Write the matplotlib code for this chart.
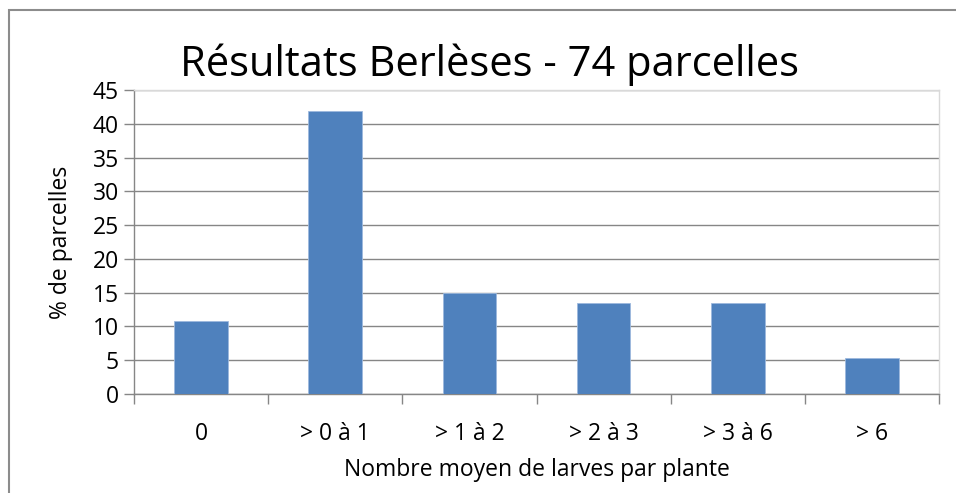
import matplotlib.pyplot as plt
import matplotlib.patches as mpatches
import numpy as np

# données (74 parcelles)
categories = ['0', '> 0 à 1', '> 1 à 2', '> 2 à 3', '> 3 à 6', '> 6']
pourcentages = [10.8, 41.9, 14.9, 13.5, 13.5, 5.4]
yticks = [0, 5, 10, 15, 20, 25, 30, 35, 40, 45]

plt.rcParams['font.family'] = ['Open Sans', 'DejaVu Sans']

W, H = 956, 493
fig = plt.figure(figsize=(W / 100, H / 100), dpi=100)

# position de la zone de tracé en pixels
left, right, top, bottom = 134, 939, 90, 394
ax = fig.add_axes([left / W, 1 - bottom / H, (right - left) / W, (bottom - top) / H])

x = np.arange(len(categories))
ax.bar(x, pourcentages, width=0.4, color='#4F81BD', edgecolor='#9DB9DE', linewidth=0.6, zorder=3)

ax.set_xlim(-0.5, len(categories) - 0.5)
ax.set_ylim(0, 45)
ax.set_yticks(yticks)
ax.set_yticklabels([str(v) for v in yticks], fontsize=16.5)
ax.set_xticks(x)
ax.set_xticklabels(categories, fontsize=16.5)
ax.tick_params(axis='x', length=0, pad=20)
ax.tick_params(axis='y', length=7, color='#868686', width=1, pad=4, direction='out')

# petites graduations entre les catégories
ax.set_xticks(np.arange(-0.5, len(categories), 1), minor=True)
ax.tick_params(axis='x', which='minor', length=7, color='#868686', width=1, direction='out')

ax.yaxis.grid(True, color='#868686', linewidth=1, zorder=0)
ax.set_axisbelow(True)
for s in ['left', 'bottom']:
    ax.spines[s].set_color('#868686')
    ax.spines[s].set_linewidth(1)
for s in ['top', 'right']:
    ax.spines[s].set_color('#D9D9D9')
    ax.spines[s].set_linewidth(1)

ax.set_ylabel('% de parcelles', fontsize=16.5, labelpad=14)
ax.set_xlabel('Nombre moyen de larves par plante', fontsize=16.5, labelpad=9)

fig.text(489 / W, 1 - 76 / H, 'Résultats Berlèses - 74 parcelles', fontsize=30,
         ha='center', va='baseline')

# cadre du graphique
fig.patches.append(mpatches.Rectangle((8.5 / W, -0.1), 1.1, 1 - 10 / H + 0.1,
                                      transform=fig.transFigure, fill=False,
                                      edgecolor='#8C8C8C', linewidth=1.5))

fig.savefig('out.png', dpi=100)
